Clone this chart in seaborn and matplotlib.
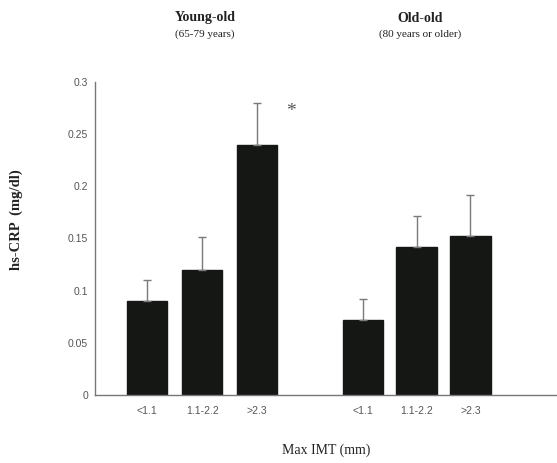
import matplotlib
matplotlib.use("Agg")
import matplotlib.pyplot as plt
import seaborn as sns
import pandas as pd
import numpy as np

groups = ["Young-old", "Young-old", "Young-old", "Old-old", "Old-old", "Old-old"]
imt_labels = ["<1.1", "1.1-2.2", ">2.3", "<1.1", "1.1-2.2", ">2.3"]
hs_crp = [0.090, 0.120, 0.240, 0.072, 0.142, 0.152]
err_upper = [0.020, 0.031, 0.040, 0.020, 0.030, 0.040]
positions = [0, 1, 2, 3.92, 4.9, 5.88]
y_ticks = [0, 0.05, 0.1, 0.15, 0.2, 0.25, 0.3]
y_tick_labels = ["0", "0.05", "0.1", "0.15", "0.2", "0.25", "0.3"]

df = pd.DataFrame({"pos": positions, "val": hs_crp, "err": err_upper,
                   "label": imt_labels, "group": groups})

sns.set_style("white")
serif = ["Liberation Serif", "DejaVu Serif"]
sans = ["Liberation Sans Narrow", "Liberation Sans", "DejaVu Sans"]

fig = plt.figure(figsize=(5.57, 4.63), dpi=100)
ax = fig.add_axes([0.1706, 0.1469, 0.829, 0.676])

sns.barplot(data=df, x="pos", y="val", native_scale=True, width=0.75,
            color="#141714", saturation=1, edgecolor="#141714", ax=ax, errorbar=None)
ax.errorbar(df["pos"], df["val"], yerr=[np.zeros(len(df)), df["err"]],
            fmt="none", ecolor="#7a7a7a", elinewidth=1.0, capsize=3, capthick=1.0, zorder=1)

ax.set_xlim(-0.95, 7.45)
ax.set_ylim(0, 0.3)
ax.set_yticks(y_ticks)
ax.set_yticklabels(y_tick_labels, family=sans, fontsize=7.5, color="#555555")
ax.set_xticks(positions)
ax.set_xticklabels(imt_labels, family=sans, fontsize=7.5, color="#555555")
ax.tick_params(axis="y", direction="in", length=3, color="#777777", pad=5)
ax.tick_params(axis="x", length=0, pad=8)
for s in ["top", "right"]:
    ax.spines[s].set_visible(False)
for s in ["left", "bottom"]:
    ax.spines[s].set_color("#777777")
    ax.spines[s].set_linewidth(1.0)

ax.set_xlabel("Max IMT (mm)", family=serif, fontsize=10, labelpad=20, color="#222222")
ax.set_ylabel("hs-CRP  (mg/dl)", family=serif, fontsize=10.5, fontweight="bold", color="#222222")
ax.yaxis.set_label_coords(-0.156, 0.56)

# asterisk
ax.text(2.62, 0.272, "*", family=serif, fontsize=14, ha="center", va="center", color="#555555")

# group titles
fig.text(205/557, 1 - 18/463, "Young-old", family=serif, fontsize=10, fontweight="bold",
         ha="center", va="center", color="#222222")
fig.text(205/557, 1 - 34/463, "(65-79 years)", family=serif, fontsize=8,
         ha="center", va="center", color="#222222")
fig.text(420/557, 1 - 18/463, "Old-old", family=serif, fontsize=10, fontweight="bold",
         ha="center", va="center", color="#222222")
fig.text(420/557, 1 - 34/463, "(80 years or older)", family=serif, fontsize=8,
         ha="center", va="center", color="#222222")

fig.savefig("out.png", dpi=100)
